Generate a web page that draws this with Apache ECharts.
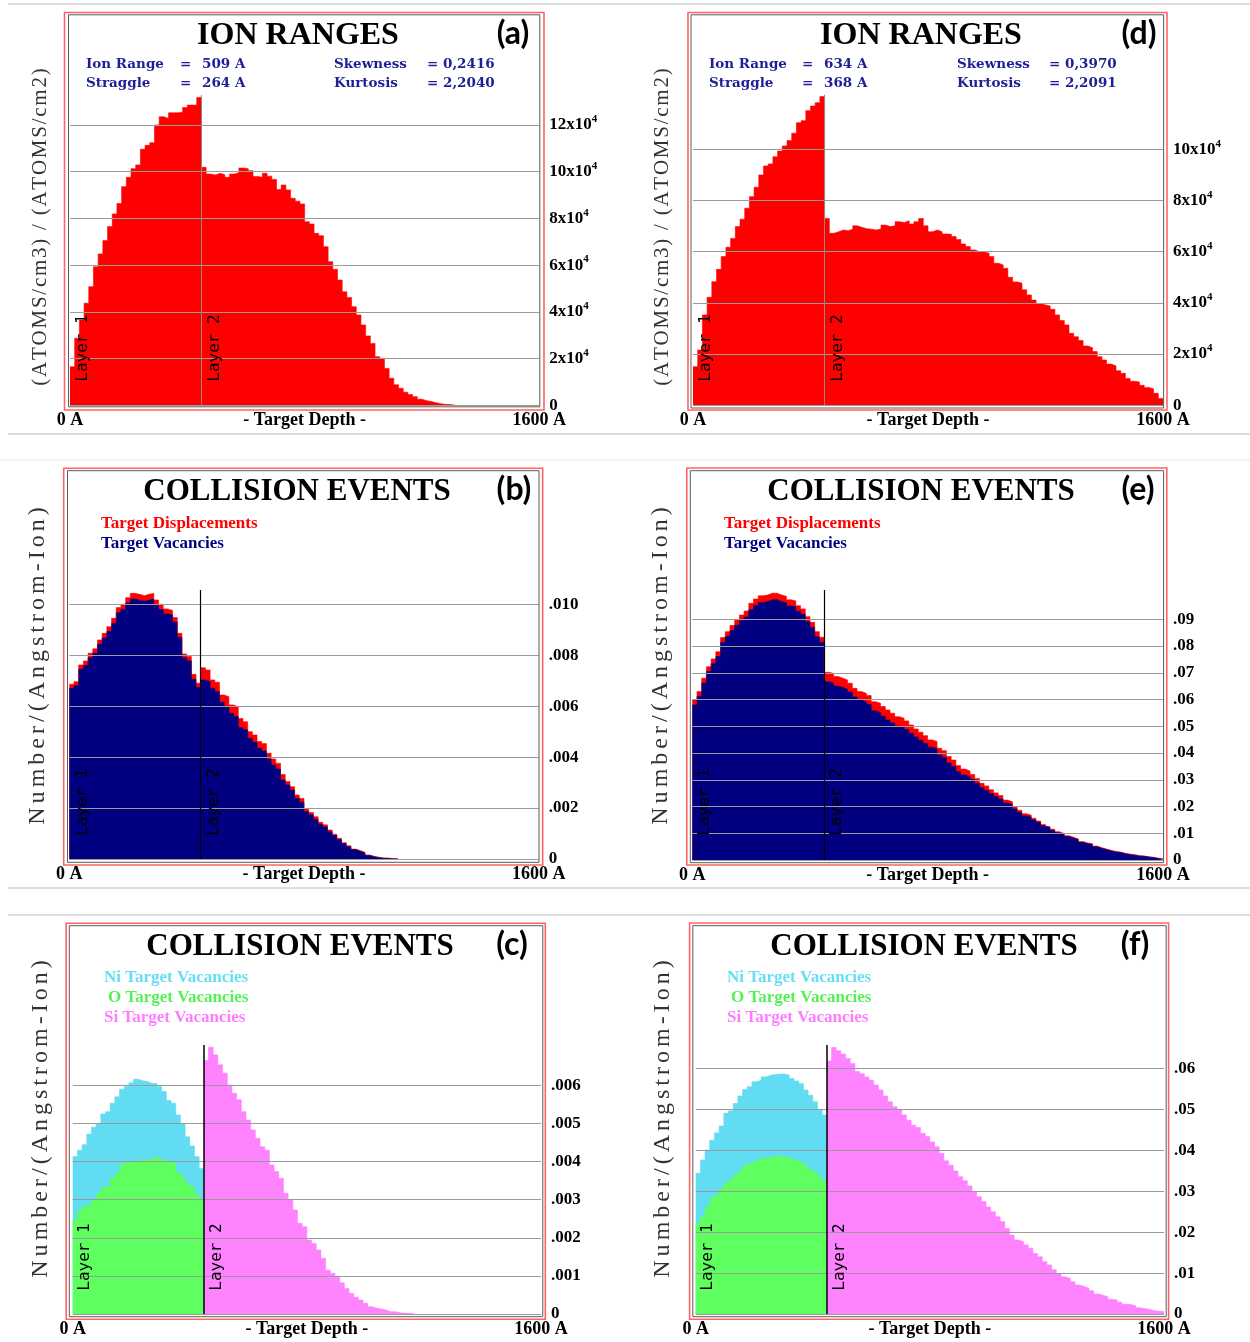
<!DOCTYPE html>
<html>
<head>
<meta charset="utf-8">
<script src="https://cdn.jsdelivr.net/npm/echarts@6/dist/echarts.min.js"></script>
<style>
html,body{margin:0;padding:0;background:#fff;}
#c{width:1250px;height:1342px;}
</style>
</head>
<body>
<div id="c"></div>
<script>
// ---------- DATA ----------
const BIN = 16;          // Å per depth bin
const LAYER_X = 448;     // Å, boundary between layer 1 and layer 2
const LAYER_BIN = 28;    // first bin of layer 2

// (a) Ion ranges, units of 10^4 (atoms/cm3)/(atoms/cm2)
const ionRangeA = [1.65,2.87,3.65,4.37,5.08,5.93,6.48,7.05,7.65,8.19,8.64,9.36,9.76,10.13,10.29,10.96,11.13,11.24,12.00,12.35,12.28,12.52,12.52,12.55,12.75,12.85,12.85,13.18,
  10.19,9.90,9.86,9.93,9.87,9.76,9.90,9.96,10.16,10.13,10.04,9.79,9.76,9.93,9.81,9.67,9.24,9.43,9.22,8.86,8.74,8.62,7.86,7.76,7.36,7.26,6.79,6.15,5.82,5.36,4.86,4.62,
  4.22,3.87,3.44,2.97,2.65,2.08,1.98,1.58,1.16,0.88,0.73,0.56,0.46,0.37,0.26,0.20,0.16,0.11,0.07,0.04,0.03,0.01];
// (d) Ion ranges, units of 10^4
const ionRangeD = [1.51,2.16,3.53,4.22,4.83,5.31,5.81,6.17,6.52,6.98,7.27,7.70,8.15,8.52,9.00,9.35,9.43,9.71,9.93,10.13,10.34,10.63,11.04,11.12,11.51,11.69,11.82,12.06,
  7.30,6.72,6.78,6.85,6.82,6.88,7.01,6.95,6.90,6.88,6.85,6.89,7.04,6.98,7.01,7.17,7.14,7.21,7.08,7.17,7.30,7.01,6.78,6.85,6.78,6.69,6.68,6.59,6.48,6.30,
  6.20,6.07,6.00,5.99,5.94,5.81,5.55,5.48,5.35,5.00,4.82,4.77,4.51,4.31,4.11,3.98,3.92,3.88,3.75,3.53,3.31,3.14,2.81,2.68,2.53,2.32,2.25,2.10,1.90,1.77,
  1.61,1.54,1.35,1.25,1.05,0.94,0.91,0.78,0.70,0.64,0.47,0.27];

// (b) Collision events, Number/(Angstrom-Ion)
const displB = [.00686,.00696,.00762,.00777,.00808,.00825,.00860,.00886,.00912,.00945,.00987,.01000,.01026,.01043,.01039,.01034,.01039,.01043,.01017,.01000,.00982,.00976,.00948,.00886,.00805,.00795,.00725,.00690,
  .00751,.00742,.00703,.00694,.00644,.00637,.00605,.00598,.00552,.00539,.00500,.00487,.00461,.00453,.00415,.00393,.00376,.00332,.00304,.00284,.00251,.00238,
  .00196,.00183,.00166,.00144,.00134,.00114,.00097,.00081,.00064,.00052,.00039,.00033,.00026,.00016,.00010,.00007,.00004,.00003,.00001,.00001];
const vacB = [.00670,.00680,.00745,.00760,.00790,.00808,.00843,.00868,.00893,.00925,.00967,.00980,.01005,.01020,.01016,.01012,.01016,.01020,.00995,.00980,.00962,.00958,.00930,.00870,.00790,.00778,.00705,.00673,
  .00703,.00696,.00670,.00657,.00615,.00598,.00572,.00559,.00516,.00507,.00474,.00458,.00435,.00424,.00393,.00369,.00353,.00310,.00291,.00271,.00238,.00223,
  .00186,.00173,.00156,.00136,.00126,.00107,.00092,.00076,.00060,.00048,.00037,.00030,.00024,.00014,.00009,.00005,.00003,.00003,.00001,.00001];

// (e) Collision events, units of 0.01 Number/(Angstrom-Ion)
const displE = [5.99,6.30,6.80,7.23,7.52,7.79,8.32,8.54,8.77,8.98,9.16,9.31,9.60,9.76,9.88,9.91,9.98,9.98,9.91,9.86,9.73,9.69,9.51,9.39,9.10,8.89,8.54,8.33,
  7.02,6.98,6.86,6.80,6.73,6.61,6.42,6.30,6.23,6.15,5.92,5.86,5.74,5.61,5.49,5.36,5.30,5.20,5.05,4.90,4.78,4.65,4.49,4.43,4.18,4.09,3.87,3.74,3.53,3.40,
  3.33,3.20,3.05,2.87,2.77,2.63,2.51,2.41,2.24,2.18,2.00,1.86,1.73,1.68,1.56,1.46,1.33,1.25,1.15,1.06,0.99,0.91,0.85,0.79,0.69,0.64,0.61,0.52,0.46,0.41,
  0.36,0.32,0.30,0.25,0.22,0.20,0.16,0.15,0.12,0.10,0.07,0.04];
const vacE = [5.80,6.12,6.62,7.05,7.34,7.61,8.14,8.36,8.58,8.78,8.95,9.09,9.36,9.52,9.63,9.66,9.73,9.73,9.66,9.62,9.50,9.47,9.30,9.19,8.91,8.70,8.35,8.14,
  6.67,6.62,6.51,6.45,6.38,6.28,6.10,5.98,5.91,5.82,5.58,5.51,5.38,5.24,5.13,5.01,4.97,4.88,4.74,4.60,4.48,4.36,4.22,4.17,3.93,3.84,3.63,3.50,3.30,3.18,
  3.12,3.01,2.87,2.70,2.61,2.48,2.37,2.28,2.13,2.08,1.91,1.78,1.65,1.61,1.50,1.41,1.28,1.21,1.11,1.02,0.96,0.88,0.82,0.76,0.66,0.61,0.59,0.50,0.44,0.39,
  0.34,0.30,0.28,0.23,0.20,0.18,0.15,0.14,0.11,0.09,0.06,0.03];

// (c) Vacancies by element, Number/(Angstrom-Ion); Ni and O in layer 1, Si in layer 2
const niC = [.00413,.00430,.00444,.00472,.00490,.00500,.00525,.00531,.00553,.00570,.00590,.00597,.00607,.00616,.00612,.00610,.00605,.00605,.00597,.00584,.00560,.00553,.00522,.00500,.00465,.00441,.00413,.00382];
const oC  = [.00247,.00269,.00283,.00286,.00299,.00315,.00332,.00336,.00356,.00369,.00391,.00397,.00400,.00402,.00404,.00404,.00408,.00411,.00406,.00402,.00400,.00395,.00371,.00360,.00343,.00334,.00315,.00299];
const siC = [.00665,.00700,.00680,.00654,.00632,.00601,.00579,.00562,.00531,.00509,.00483,.00461,.00439,.00430,.00391,.00374,.00356,.00317,.00299,.00273,
  .00238,.00229,.00194,.00185,.00168,.00146,.00115,.00107,.00098,.00082,.00067,.00054,.00044,.00037,.00028,.00019,.00015,.00013,.00010,.00006,
  .00006,.00003,.00002,.00002,.00001];

// (f) Vacancies by element, units of 0.01 Number/(Angstrom-Ion)
const niF = [3.44,3.77,4.01,4.25,4.43,4.60,4.91,4.97,5.15,5.33,5.49,5.56,5.68,5.72,5.80,5.84,5.86,5.87,5.87,5.84,5.76,5.70,5.64,5.48,5.35,5.19,4.99,4.87];
const oF  = [2.22,2.38,2.62,2.83,2.91,3.05,3.19,3.28,3.40,3.50,3.62,3.68,3.72,3.78,3.81,3.82,3.85,3.85,3.84,3.82,3.78,3.74,3.70,3.62,3.54,3.46,3.36,3.24];
const siF = [6.19,6.52,6.44,6.36,6.25,6.13,5.93,5.88,5.80,5.72,5.60,5.48,5.33,5.19,5.07,4.99,4.87,4.74,4.62,4.56,4.42,4.34,4.21,4.09,3.93,3.75,3.64,3.50,3.36,3.26,
  3.13,2.99,2.87,2.75,2.62,2.50,2.38,2.26,2.09,1.93,1.81,1.77,1.69,1.61,1.48,1.40,1.28,1.20,1.08,0.99,0.91,0.87,0.79,0.71,0.67,0.63,0.57,0.49,0.46,0.42,
  0.36,0.34,0.29,0.24,0.23,0.20,0.15,0.13,0.11,0.08,0.07,0.06];

// Height reached by each "layer" divider line (axis units of each panel)
const layerTopA = 13.28, layerTopD = 12.13, layerTopB = .01056, layerTopE = 10.10, layerTopC = .00706, layerTopF = 6.58;

// Tick labels
const xTickLabels = ['0 A', '- Target Depth -', '1600 A'];
const yTicksA = [0, 2, 4, 6, 8, 10, 12];   // x10^4
const yTicksD = [0, 2, 4, 6, 8, 10];       // x10^4
const yTicksB = ['0', '.002', '.004', '.006', '.008', '.010'];
const yTicksE = ['0', '.01', '.02', '.03', '.04', '.05', '.06', '.07', '.08', '.09'];
const yTicksC = ['0', '.001', '.002', '.003', '.004', '.005', '.006'];
const yTicksF = ['0', '.01', '.02', '.03', '.04', '.05', '.06'];

// Text
const statsA = [['Ion Range', '509 A', 'Skewness', '= 0,2416'], ['Straggle', '264 A', 'Kurtosis', '= 2,2040']];
const statsD = [['Ion Range', '634 A', 'Skewness', '= 0,3970'], ['Straggle', '368 A', 'Kurtosis', '= 2,2091']];

// ---------- STYLE ----------
const SERIF = '"Liberation Serif","Times New Roman",serif';
const GRIDC = '#9b9b9b';
const NONE = 'rgba(0,0,0,0)';
const RED = '#ff0000', NAVY = '#000080', CYAN = '#62dcf2', GREEN = '#5eff5e', MAGENTA = '#ff82ff';
const STAT_C = '#1e1e96';

function stepData(values, startBin) {
  const pts = values.map((v, i) => [(startBin + i) * BIN, v]);
  pts.push([(startBin + values.length) * BIN, values[values.length - 1]]);
  return pts;
}
function area(k, values, startBin, color, layer) {
  const s = {
    type: 'line', xAxisIndex: k, yAxisIndex: k, data: stepData(values, startBin),
    step: 'end', symbol: 'none', silent: true, animation: false, z: 2,
    lineStyle: { color: color, width: 0.6 }, areaStyle: { color: color, opacity: 1 }
  };
  if (layer) {
    s.markLine = {
      silent: true, symbol: ['none', 'none'], animation: false, label: { show: false },
      lineStyle: { color: layer.color, width: layer.width, type: 'solid' },
      data: [[{ coord: [LAYER_X, 0] }, { coord: [LAYER_X, layer.top] }]]
    };
  }
  return s;
}
function xAxis(k) {
  return {
    type: 'value', gridIndex: k, min: 0, max: 1600, interval: 800,
    axisLine: { show: false }, axisTick: { show: false }, splitLine: { show: false },
    axisLabel: { margin: 6, color: '#000', fontFamily: SERIF, fontWeight: 'bold', fontSize: 18,
      formatter: (v, i) => xTickLabels[i] || '' }
  };
}
function yAxis(k, max, interval, labels, fmt) {
  const n = Math.round(max / interval) + 1;
  const colors = [];
  for (let i = 0; i < n; i++) colors.push(i < labels.length ? GRIDC : NONE);
  return {
    type: 'value', gridIndex: k, position: 'right', min: 0, max: max, interval: interval, z: 3,
    axisLine: { show: false }, axisTick: { show: false },
    splitLine: { show: true, lineStyle: { color: colors, width: 1 } },
    axisLabel: {
      margin: 10, color: '#000', fontFamily: SERIF, fontWeight: 'bold', fontSize: 17,
      formatter: (v, i) => (i < labels.length ? fmt(labels[i]) : ''),
      rich: {
        b: { fontFamily: SERIF, fontWeight: 'bold', fontSize: 17, color: '#000', lineHeight: 22 },
        s: { fontFamily: SERIF, fontWeight: 'bold', fontSize: 11, color: '#000', lineHeight: 12, verticalAlign: 'top' }
      }
    }
  };
}
const powFmt = (m) => (m === 0 ? '{b|0}' : '{b|' + m + 'x10}{s|4}');
const plainFmt = (s) => s;

// grids: a, d, b, e, c, f
const grids = [
  { left: 70, top: 78.26, width: 469.3, height: 327.04 },
  { left: 693, top: 46.9, width: 470, height: 358.4 },
  { left: 69.3, top: 553.36, width: 469.4, height: 305.64 },
  { left: 692.3, top: 565.86, width: 470.7, height: 294.14 },
  { left: 72.7, top: 1009.12, width: 468.3, height: 304.88 },
  { left: 695.7, top: 986.96, width: 468.3, height: 327.04 }
];

const xAxes = grids.map((g, k) => xAxis(k));
const yAxes = [
  yAxis(0, 14, 2, yTicksA, powFmt),
  yAxis(1, 14, 2, yTicksD, powFmt),
  yAxis(2, 0.012, 0.002, yTicksB, plainFmt),
  yAxis(3, 11, 1, yTicksE, plainFmt),
  yAxis(4, 0.008, 0.001, yTicksC, plainFmt),
  yAxis(5, 8, 1, yTicksF, plainFmt)
];

const series = [
  area(0, ionRangeA, 0, RED, { top: layerTopA, color: '#8a8a8a', width: 1 }),
  area(1, ionRangeD, 0, RED, { top: layerTopD, color: '#8a8a8a', width: 1 }),
  area(2, displB, 0, RED),
  area(2, vacB, 0, NAVY, { top: layerTopB, color: '#000', width: 1.2 }),
  area(3, displE, 0, RED),
  area(3, vacE, 0, NAVY, { top: layerTopE, color: '#000', width: 1.2 }),
  area(4, niC, 0, CYAN),
  area(4, oC, 0, GREEN),
  area(4, siC, LAYER_BIN, MAGENTA, { top: layerTopC, color: '#000', width: 1.5 }),
  area(5, niF, 0, CYAN),
  area(5, oF, 0, GREEN),
  area(5, siF, LAYER_BIN, MAGENTA, { top: layerTopF, color: '#000', width: 1.5 })
];

// ---------- DECORATION (frames, titles, annotations) ----------
const G = [];
function txt(x, y, text, font, fill, align, rot, z) {
  G.push({ type: 'text', x: x, y: y, rotation: rot || 0, z: z || 50, silent: true,
    style: { text: text, font: font, fill: fill, align: align || 'left', verticalAlign: 'middle',
      textAlign: align || 'left', textVerticalAlign: 'middle' } });
}
function rect(x, y, w, h, stroke, lw) {
  G.push({ type: 'rect', silent: true, z: 40, shape: { x: x, y: y, width: w, height: h },
    style: { fill: 'none', stroke: stroke, lineWidth: lw } });
}
function hline(x1, x2, y, stroke) {
  G.push({ type: 'line', silent: true, z: 1, shape: { x1: x1, y1: y, x2: x2, y2: y }, style: { stroke: stroke, lineWidth: 1.5 } });
}
// separators
hline(8, 1250, 4, '#d2d2d2');
hline(8, 1250, 434, '#d2d2d2');
hline(0, 1250, 460, '#f0f0f0');
hline(8, 1250, 888, '#d2d2d2');
hline(8, 1250, 915, '#d2d2d2');

// panel frames [red outer, gray inner]
const frames = [
  [64.5, 12.5, 479.5, 397.5, 68.5, 14.8, 471.3, 392],
  [688, 12.5, 479, 397.5, 691, 14.8, 472.6, 393.2],
  [63.7, 468.3, 479, 396.7, 67.5, 470.7, 471.5, 391.6],
  [686.8, 468, 480, 397, 690.3, 470.7, 473.3, 392],
  [66.2, 923.3, 479.1, 396, 69.3, 925.7, 473.5, 391],
  [689.6, 923, 479, 396.3, 692.8, 925.7, 473.4, 391]
];
frames.forEach(f => { rect(f[0], f[1], f[2], f[3], '#ff6464', 1.6); rect(f[4], f[5], f[6], f[7], '#5a5a5a', 1); });

// titles
const TITLE_FONT = 'bold 32px ' + SERIF;
const CE_FONT = 'bold 31px ' + SERIF;
txt(298, 36, 'ION RANGES', TITLE_FONT, '#000', 'center');
txt(921, 36, 'ION RANGES', TITLE_FONT, '#000', 'center');
txt(297, 492, 'COLLISION EVENTS', CE_FONT, '#000', 'center');
txt(921, 492, 'COLLISION EVENTS', CE_FONT, '#000', 'center');
txt(300, 947, 'COLLISION EVENTS', CE_FONT, '#000', 'center');
txt(924, 947, 'COLLISION EVENTS', CE_FONT, '#000', 'center');
// panel letters
const LET_FONT = 'bold 32px Lato, "Liberation Sans", sans-serif';
txt(513, 34, '(a)', LET_FONT, '#000', 'center');
txt(1139, 34, '(d)', LET_FONT, '#000', 'center');
txt(514, 490, '(b)', LET_FONT, '#000', 'center');
txt(1138, 490, '(e)', LET_FONT, '#000', 'center');
txt(512, 945, '(c)', LET_FONT, '#000', 'center');
txt(1135, 945, '(f)', LET_FONT, '#000', 'center');

// statistics
const STAT_FONT = 'bold 13.5px "DejaVu Serif", serif';
function stats(rows, x0, xEq, xVal, x2, x3) {
  rows.forEach((r, j) => {
    const y = 64 + j * 19.5;
    txt(x0, y, r[0], STAT_FONT, STAT_C);
    txt(xEq, y, '=', STAT_FONT, STAT_C);
    txt(xVal, y, r[1], STAT_FONT, STAT_C);
    txt(x2, y, r[2], STAT_FONT, STAT_C);
    txt(x3, y, r[3], STAT_FONT, STAT_C);
  });
}
stats(statsA, 86, 180, 202, 334, 427);
stats(statsD, 709, 802, 824, 957, 1049);

// legends
const LEG_FONT = 'bold 17px ' + SERIF;
txt(101, 524, 'Target Displacements', LEG_FONT, RED);
txt(101, 544, 'Target Vacancies', LEG_FONT, NAVY);
txt(724, 524, 'Target Displacements', LEG_FONT, RED);
txt(724, 544, 'Target Vacancies', LEG_FONT, NAVY);
txt(104, 978, 'Ni Target Vacancies', LEG_FONT, '#66def5');
txt(108, 998, 'O Target Vacancies', LEG_FONT, '#55f055');
txt(104, 1018, 'Si Target Vacancies', LEG_FONT, '#ff7cff');
txt(727, 978, 'Ni Target Vacancies', LEG_FONT, '#66def5');
txt(731, 998, 'O Target Vacancies', LEG_FONT, '#55f055');
txt(727, 1018, 'Si Target Vacancies', LEG_FONT, '#ff7cff');

// y axis titles (letter-spaced)
const spaced = (s, gap) => s.split('').join(gap);
const YT1 = spaced('(ATOMS/cm3) / (ATOMS/cm2)', '\u200A');
const YT2 = spaced('Number/(Angstrom-Ion)', '\u200A\u200A');
const YT1_FONT = '21px ' + SERIF, YT2_FONT = '24px ' + SERIF;
txt(40, 227, YT1, YT1_FONT, '#333', 'center', Math.PI / 2);
txt(662, 227, YT1, YT1_FONT, '#333', 'center', Math.PI / 2);
txt(38, 666, YT2, YT2_FONT, '#333', 'center', Math.PI / 2);
txt(661, 666, YT2, YT2_FONT, '#333', 'center', Math.PI / 2);
txt(41, 1119, YT2, YT2_FONT, '#333', 'center', Math.PI / 2);
txt(663, 1119, YT2, YT2_FONT, '#333', 'center', Math.PI / 2);

// layer labels
const LAY_FONT = '16px "DejaVu Sans Mono", monospace';
[[83, 348], [706, 348], [83, 802], [705, 802], [85, 1257], [708, 1257]].forEach(p => txt(p[0], p[1], 'Layer 1', LAY_FONT, '#000', 'center', Math.PI / 2, 60));
[[215, 348], [838, 348], [213.5, 802], [836.5, 802], [216.5, 1257], [839.5, 1257]].forEach(p => txt(p[0], p[1], 'Layer 2', LAY_FONT, '#000', 'center', Math.PI / 2, 60));

const chart = echarts.init(document.getElementById('c'), null, { renderer: 'canvas' });
chart.setOption({
  animation: false,
  backgroundColor: '#fff',
  grid: grids,
  xAxis: xAxes,
  yAxis: yAxes,
  series: series,
  graphic: { elements: G }
});
</script>
</body>
</html>
